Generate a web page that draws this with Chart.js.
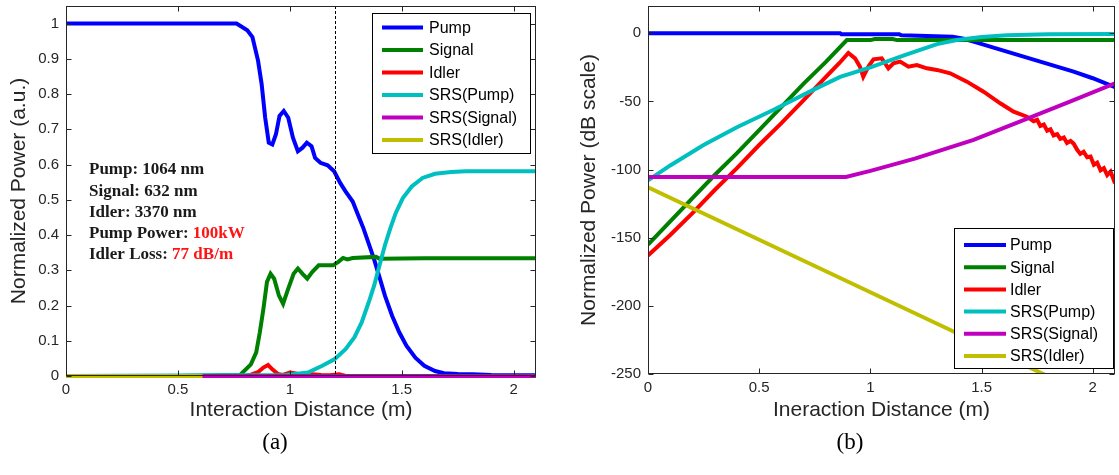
<!DOCTYPE html>
<html>
<head>
<meta charset="utf-8">
<script src="https://cdn.jsdelivr.net/npm/chart.js@4.4.1/dist/chart.umd.min.js"></script>
<style>
  html, body { margin: 0; padding: 0; background: #ffffff; }
  #wrap { position: relative; width: 1119px; height: 475px; overflow: hidden; background: #fff; }
  canvas { position: absolute; top: 0; }
  #cA { left: 0; }
  #cB { left: 560px; }
  .cap { position: absolute; top: 429px; font-family: 'Liberation Serif', 'Times New Roman', serif; font-size: 23px; color: #000; transform: translateX(-50%); white-space: nowrap; }
</style>
</head>
<body>
<div id="wrap">
  <canvas id="cA" width="560" height="430"></canvas>
  <canvas id="cB" width="559" height="430"></canvas>
  <div class="cap" id="capA" style="left:275px">(a)</div>
  <div class="cap" id="capB" style="left:850px">(b)</div>
</div>
<script>
// ---------- series labels & colours ----------
const seriesLabels = ['Pump', 'Signal', 'Idler', 'SRS(Pump)', 'SRS(Signal)', 'SRS(Idler)'];
const seriesColors = ['#0000ff', '#008000', '#ff0000', '#00bfbf', '#bf00bf', '#bfbf00'];

// ---------- panel (a): linear scale ----------
const aPumpX = [0, 0.2, 0.4, 0.6, 0.762, 0.81, 0.833, 0.858, 0.874, 0.89, 0.906, 0.922, 0.938, 0.954, 0.973, 0.993, 1.014, 1.036, 1.057, 1.076, 1.097, 1.113, 1.137, 1.169, 1.198, 1.225, 1.249, 1.281, 1.305, 1.329, 1.353, 1.377, 1.401, 1.425, 1.457, 1.489, 1.521, 1.561, 1.601, 1.649, 1.689, 1.75, 1.817, 1.9, 2.0, 2.1];
const aPumpY = [1, 1, 1, 1, 1, 0.981, 0.962, 0.895, 0.829, 0.733, 0.662, 0.657, 0.686, 0.738, 0.752, 0.733, 0.676, 0.638, 0.648, 0.662, 0.652, 0.619, 0.605, 0.598, 0.581, 0.548, 0.524, 0.495, 0.457, 0.419, 0.375, 0.33, 0.28, 0.228, 0.171, 0.124, 0.086, 0.052, 0.029, 0.014, 0.008, 0.006, 0.005, 0.003, 0.002, 0.002];

const aSignalX = [0, 0.5, 0.778, 0.826, 0.85, 0.866, 0.882, 0.898, 0.914, 0.93, 0.951, 0.97, 0.993, 1.017, 1.036, 1.057, 1.078, 1.1, 1.129, 1.193, 1.217, 1.238, 1.257, 1.281, 1.385, 1.401, 1.6, 2.1];
const aSignalY = [0, 0, 0.003, 0.033, 0.067, 0.124, 0.19, 0.267, 0.29, 0.276, 0.229, 0.205, 0.248, 0.29, 0.305, 0.29, 0.276, 0.295, 0.314, 0.314, 0.324, 0.335, 0.331, 0.335, 0.338, 0.333, 0.334, 0.334];

const aIdlerX = [0, 0.8, 0.826, 0.86, 0.882, 0.903, 0.922, 0.946, 0.97, 1.0, 1.02, 1.06, 1.1, 1.14, 1.18, 1.22, 1.25, 2.1];
const aIdlerY = [0, 0, 0.004, 0.012, 0.024, 0.031, 0.019, 0.006, 0.003, 0.01, 0.008, 0.003, 0.005, 0.003, 0.002, 0.005, 0, 0];

const aSrsPumpX = [0, 0.985, 1.081, 1.145, 1.201, 1.249, 1.289, 1.321, 1.353, 1.377, 1.401, 1.425, 1.449, 1.473, 1.505, 1.545, 1.593, 1.649, 1.721, 1.785, 2.1];
const aSrsPumpY = [0, 0.003, 0.01, 0.029, 0.048, 0.076, 0.11, 0.152, 0.21, 0.257, 0.314, 0.371, 0.419, 0.462, 0.505, 0.538, 0.562, 0.574, 0.579, 0.581, 0.581];

const aSrsSignalX = [0, 2.1];
const aSrsSignalY = [0, 0];

const aSrsIdlerX = [0, 0.61];
const aSrsIdlerY = [0, 0];

const aXTicks = [0, 0.5, 1, 1.5, 2];
const aYTicks = [0, 0.1, 0.2, 0.3, 0.4, 0.5, 0.6, 0.7, 0.8, 0.9, 1];
const aMarkerX = 1.2;

const annoLines = [
  [['Pump: 1064 nm', '#1a1a1a']],
  [['Signal: 632 nm', '#1a1a1a']],
  [['Idler: 3370 nm', '#1a1a1a']],
  [['Pump Power: ', '#1a1a1a'], ['100kW', '#ff1414']],
  [['Idler Loss: ', '#1a1a1a'], ['77 dB/m', '#ff1414']]
];

// ---------- panel (b): dB scale ----------
const bPumpX = [0, 0.5, 0.864, 0.87, 1.13, 1.14, 1.37, 1.42, 1.464, 1.614, 1.764, 1.914, 2.0, 2.1];
const bPumpY = [0, 0, 0, -0.8, -0.8, -1.5, -2.5, -4, -6.1, -13.5, -20.8, -28.2, -33, -39.5];

const bSignalX = [0, 0.1, 0.2, 0.3, 0.4, 0.5, 0.6, 0.7, 0.8, 0.894, 1.0, 1.02, 1.1, 1.12, 2.1];
const bSignalY = [-155, -138, -121, -104, -88, -71, -54, -37, -21, -5, -5, -4.2, -4.2, -5, -5];

const bIdlerX = [0, 0.1, 0.2, 0.3, 0.4, 0.5, 0.6, 0.7, 0.8, 0.86, 0.901, 0.931, 0.953, 0.968, 0.991, 1.014, 1.051, 1.081, 1.104, 1.134, 1.171, 1.209, 1.254, 1.299, 1.359, 1.434, 1.509, 1.584, 1.644, 1.704, 1.734, 1.75, 1.764, 1.78, 1.795, 1.81, 1.824, 1.84, 1.854, 1.87, 1.884, 1.9, 1.914, 1.93, 1.944, 1.959, 1.975, 1.99, 2.005, 2.02, 2.035, 2.05, 2.065, 2.08, 2.1];
const bIdlerY = [-163, -148, -132, -115, -99, -82, -66, -49, -32, -22, -14.5, -18.4, -24.5, -31.9, -24.5, -19.1, -18.4, -25.7, -22, -20.8, -24.5, -23.3, -25.7, -26.9, -29.4, -35.5, -42.9, -51.4, -57.5, -61.2, -64.5, -63.5, -68, -67, -71.5, -70.5, -75, -74, -77.5, -76.5, -80.5, -79, -81, -85.5, -88.5, -87, -91, -90.5, -96.5, -95, -100.5, -99, -104, -101.5, -110];

const bSrsPumpX = [0, 0.1, 0.25, 0.4, 0.563, 0.75, 0.864, 1.0, 1.164, 1.3, 1.389, 1.5, 1.614, 1.8, 2.1];
const bSrsPumpY = [-108, -97, -82, -69, -56.3, -41, -32, -25, -15.5, -8, -4.9, -2.8, -1.5, -0.8, -0.5];

const bSrsSignalX = [0, 0.5, 0.89, 1.0, 1.2, 1.464, 1.7, 1.9, 2.1];
const bSrsSignalY = [-105.5, -105.5, -105.5, -101, -92, -78.3, -63, -50, -36.7];

const bSrsIdlerX = [0, 0.5, 1.0, 1.5, 2.1];
const bSrsIdlerY = [-113, -151.5, -190, -228.5, -275];

const bXTicks = [0, 0.5, 1, 1.5, 2];
const bYTicks = [-250, -200, -150, -100, -50, 0];

// ---------- helpers ----------
const FONT = "'Liberation Sans', Arial, sans-serif";
const TXT = '#262626';

function fmt(v) { return String(Math.round(v * 1000) / 1000); }

function makeSets(pairs, clip) {
  return pairs.map((p, i) => {
    const d = {
      label: seriesLabels[i],
      data: p[0].map((x, k) => ({ x: x, y: p[1][k] })),
      borderColor: seriesColors[i],
      backgroundColor: seriesColors[i],
      borderWidth: 4,
      pointRadius: 0,
      pointHoverRadius: 0,
      fill: false,
      tension: 0,
      order: -i
    };
    if (clip) d.clip = clip;
    return d;
  });
}

const matlabBox = {
  id: 'matlabBox',
  afterDatasetsDraw(chart, args, o) {
    const ctx = chart.ctx, ca = chart.chartArea;
    const xs = chart.scales.x, ys = chart.scales.y;
    ctx.save();
    if (o.markerX !== undefined && o.markerX !== null) {
      const px = Math.round(xs.getPixelForValue(o.markerX)) + 0.5;
      ctx.strokeStyle = '#000';
      ctx.lineWidth = 1;
      ctx.setLineDash([3, 2]);
      ctx.beginPath(); ctx.moveTo(px, ca.top); ctx.lineTo(px, ca.bottom); ctx.stroke();
      ctx.setLineDash([]);
    }
    ctx.strokeStyle = TXT;
    ctx.lineWidth = 1;
    const L = Math.round(ca.left) + 0.5, R = Math.round(ca.right) - 0.5;
    const T = Math.round(ca.top) + 0.5, B = Math.round(ca.bottom) - 0.5;
    ctx.strokeRect(L, T, R - L, B - T);
    const tl = 5;
    ctx.beginPath();
    xs.ticks.forEach(t => {
      const px = Math.round(xs.getPixelForValue(t.value)) + 0.5;
      ctx.moveTo(px, B); ctx.lineTo(px, B - tl);
      ctx.moveTo(px, T); ctx.lineTo(px, T + tl);
    });
    ys.ticks.forEach(t => {
      const py = Math.round(ys.getPixelForValue(t.value)) + 0.5;
      ctx.moveTo(L, py); ctx.lineTo(L + tl, py);
      ctx.moveTo(R, py); ctx.lineTo(R - tl, py);
    });
    ctx.stroke();
    const lg = o.legend;
    if (lg) {
      ctx.fillStyle = '#fff';
      ctx.fillRect(lg.x0, lg.y0, lg.x1 - lg.x0, lg.y1 - lg.y0);
      ctx.strokeStyle = '#000';
      ctx.lineWidth = 1;
      ctx.strokeRect(lg.x0 + 0.5, lg.y0 + 0.5, lg.x1 - lg.x0, lg.y1 - lg.y0);
      ctx.font = lg.fontSize + 'px ' + FONT;
      ctx.textBaseline = 'middle';
      ctx.textAlign = 'left';
      chart.data.datasets.forEach((d, i) => {
        const yy = lg.row0 + i * lg.rowH;
        ctx.strokeStyle = d.borderColor;
        ctx.lineWidth = 4;
        ctx.beginPath(); ctx.moveTo(lg.lx0, yy); ctx.lineTo(lg.lx1, yy); ctx.stroke();
        ctx.fillStyle = '#000';
        ctx.fillText(d.label, lg.tx, yy + 1);
      });
    }
    if (o.anno) {
      ctx.font = 'bold ' + o.anno.fontSize + "px 'Liberation Serif', 'Times New Roman', serif";
      ctx.textBaseline = 'middle';
      ctx.textAlign = 'left';
      o.anno.lines.forEach((segs, i) => {
        let x = o.anno.x;
        const yy = o.anno.y0 + i * o.anno.dy;
        segs.forEach(s => {
          ctx.fillStyle = s[1];
          ctx.fillText(s[0], x, yy);
          x += ctx.measureText(s[0]).width;
        });
      });
    }
    ctx.restore();
  }
};

function makeChart(id, sets, cfg) {
  const W = cfg.W, H = cfg.H;
  return new Chart(document.getElementById(id), {
    type: 'line',
    data: { datasets: sets },
    plugins: [matlabBox],
    options: {
      responsive: false,
      animation: false,
      events: [],
      layout: { padding: { left: 0, top: cfg.top, right: W - cfg.right, bottom: 0 } },
      plugins: {
        legend: { display: false },
        tooltip: { enabled: false },
        matlabBox: cfg.box
      },
      scales: {
        x: {
          type: 'linear',
          min: cfg.xmin, max: cfg.xmax,
          afterBuildTicks: s => { s.ticks = cfg.xTicks.map(v => ({ value: v })); },
          afterFit: s => { s.height = H - cfg.bottom; s.paddingLeft = 0; s.paddingRight = 0; s.paddingTop = 0; s.paddingBottom = 0; },
          grid: { display: false, drawTicks: false, tickLength: 0 },
          border: { display: false },
          ticks: { autoSkip: false, maxRotation: 0, padding: cfg.xTickPad, color: TXT, font: { family: FONT, size: cfg.tickSize }, callback: v => fmt(v) },
          title: { display: true, text: cfg.xTitle, color: TXT, font: { family: FONT, size: cfg.titleSize }, padding: { top: 0, bottom: cfg.xTitlePad } }
        },
        y: {
          type: 'linear',
          min: cfg.ymin, max: cfg.ymax,
          afterBuildTicks: s => { s.ticks = cfg.yTicks.map(v => ({ value: v })); },
          afterFit: s => { s.width = cfg.left; s.paddingLeft = 0; s.paddingRight = 0; s.paddingTop = 0; s.paddingBottom = 0; },
          grid: { display: false, drawTicks: false, tickLength: 0 },
          border: { display: false },
          ticks: { autoSkip: false, padding: cfg.yTickPad, color: TXT, font: { family: FONT, size: cfg.tickSize }, callback: v => fmt(v) },
          title: { display: true, text: cfg.yTitle, color: TXT, font: { family: FONT, size: cfg.titleSize }, padding: { top: cfg.yTitlePad, bottom: 0 } }
        }
      }
    }
  });
}

makeChart('cA', makeSets([
  [aPumpX, aPumpY], [aSignalX, aSignalY], [aIdlerX, aIdlerY],
  [aSrsPumpX, aSrsPumpY], [aSrsSignalX, aSrsSignalY], [aSrsIdlerX, aSrsIdlerY]
], { left: 0, top: 0, right: 0, bottom: 3 }), {
  W: 560, H: 430, left: 66, right: 536, top: 6, bottom: 376,
  xmin: 0, xmax: 2.1, ymin: 0, ymax: 1.05,
  xTicks: aXTicks, yTicks: aYTicks,
  tickSize: 15, titleSize: 21, xTickPad: 5, yTickPad: 7, xTitlePad: 7, yTitlePad: 7,
  xTitle: 'Interaction Distance (m)', yTitle: 'Normalized Power (a.u.)',
  box: {
    markerX: aMarkerX,
    legend: { x0: 372, y0: 13, x1: 530, y1: 153, lx0: 382, lx1: 423, tx: 429, row0: 27.5, rowH: 22.5, fontSize: 16 },
    anno: { lines: annoLines, x: 89, y0: 170, dy: 21.2, fontSize: 17 }
  }
});

makeChart('cB', makeSets([
  [bPumpX, bPumpY], [bSignalX, bSignalY], [bIdlerX, bIdlerY],
  [bSrsPumpX, bSrsPumpY], [bSrsSignalX, bSrsSignalY], [bSrsIdlerX, bSrsIdlerY]
], null), {
  W: 559, H: 430, left: 88, right: 555, top: 6, bottom: 374,
  xmin: 0, xmax: 2.1, ymin: -250, ymax: 20,
  xTicks: bXTicks, yTicks: bYTicks,
  tickSize: 15, titleSize: 21, xTickPad: 5, yTickPad: 7, xTitlePad: 7, yTitlePad: 17,
  xTitle: 'Ineraction Distance (m)', yTitle: 'Normalized Power (dB scale)',
  box: {
    legend: { x0: 394, y0: 228, x1: 553, y1: 368, lx0: 404, lx1: 446, tx: 450, row0: 245, rowH: 22.2, fontSize: 16 }
  }
});
</script>
</body>
</html>
